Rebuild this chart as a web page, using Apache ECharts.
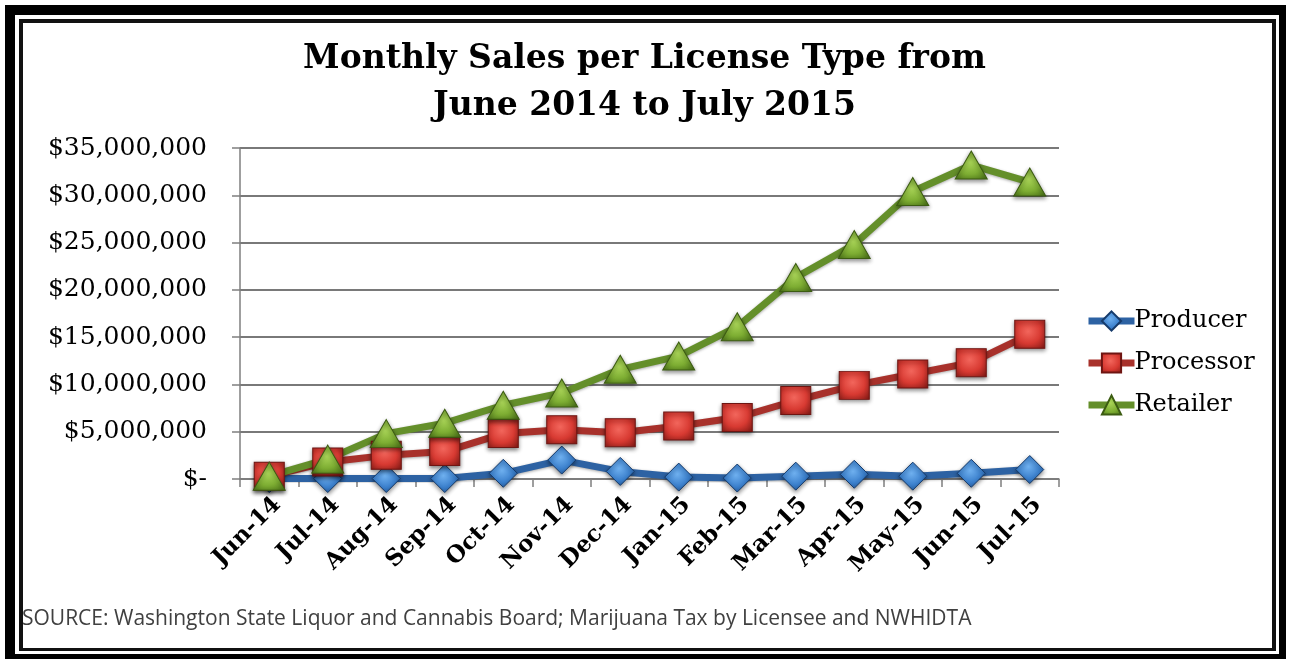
<!DOCTYPE html>
<html>
<head>
<meta charset="utf-8">
<title>Monthly Sales per License Type</title>
<script src="https://cdn.jsdelivr.net/npm/echarts@6/dist/echarts.min.js"></script>
<style>
  html, body { margin: 0; padding: 0; background: #fff; }
  #chart { width: 1289px; height: 659px; }
</style>
</head>
<body>
<div id="chart"></div>
<script>
// Months covered by the report
const months = ['Jun-14', 'Jul-14', 'Aug-14', 'Sep-14', 'Oct-14', 'Nov-14', 'Dec-14',
                'Jan-15', 'Feb-15', 'Mar-15', 'Apr-15', 'May-15', 'Jun-15', 'Jul-15'];

// Monthly sales in dollars, by license type
const producer  = [50000, 50000, 50000, 50000, 600000, 2000000, 800000,
                   200000, 100000, 300000, 500000, 300000, 600000, 1000000];
const processor = [300000, 1800000, 2500000, 2900000, 4800000, 5200000, 4900000,
                   5600000, 6500000, 8300000, 9900000, 11100000, 12300000, 15300000];
const retailer  = [300000, 2100000, 4800000, 5900000, 7800000, 9100000, 11600000,
                   13000000, 16100000, 21300000, 24800000, 30400000, 33200000, 31400000];

const seriesNames = ['Producer', 'Processor', 'Retailer'];

const SERIF = '"DejaVu Serif", "Liberation Serif", serif';

function glossy(light, mid, dark) {
  return {
    type: 'radial', x: 0.45, y: 0.4, r: 0.75,
    colorStops: [
      { offset: 0, color: light },
      { offset: 0.55, color: mid },
      { offset: 1, color: dark }
    ]
  };
}

function lineSeries(name, data, symbol, size, lineColor, fill, border) {
  return {
    name: name,
    type: 'line',
    data: data,
    symbol: symbol,
    symbolSize: size,
    showAllSymbol: true,
    lineStyle: {
      width: 7, color: lineColor,
      shadowColor: 'rgba(0,0,0,0.35)', shadowBlur: 3, shadowOffsetY: 1
    },
    itemStyle: {
      color: fill, borderColor: border, borderWidth: 1,
      shadowColor: 'rgba(0,0,0,0.45)', shadowBlur: 4, shadowOffsetY: 2
    },
    emphasis: { disabled: true },
    z: 3
  };
}

const chart = echarts.init(document.getElementById('chart'), null, { renderer: 'canvas' });

chart.setOption({
  animation: false,
  backgroundColor: '#fff',
  title: {
    text: 'Monthly Sales per License Type from\nJune 2014 to July 2015',
    left: 'center',
    top: 31,
    textStyle: {
      fontFamily: SERIF, fontWeight: 'bold', fontSize: 33,
      lineHeight: 47, color: '#000'
    }
  },
  legend: {
    orient: 'vertical',
    left: 1080,
    top: 304,
    itemWidth: 46,
    itemHeight: 24,
    itemGap: 18,
    data: seriesNames,
    lineStyle: { width: 7 },
    textStyle: { fontFamily: SERIF, fontSize: 24, color: '#000', padding: [0, 0, 0, -5] }
  },
  grid: { left: 240, top: 148, right: 230, bottom: 180, containLabel: false },
  xAxis: {
    type: 'category',
    data: months,
    boundaryGap: true,
    axisLine: { lineStyle: { color: '#7f7f7f', width: 1.5 } },
    axisTick: { show: true, inside: false, length: 8, alignWithLabel: false,
                lineStyle: { color: '#7f7f7f', width: 1.5 } },
    axisLabel: {
      interval: 0, rotate: 45, margin: 14, verticalAlign: 'top',
      fontFamily: SERIF, fontWeight: 'bold', fontSize: 23, color: '#000'
    }
  },
  yAxis: {
    type: 'value',
    min: 0, max: 35000000, interval: 5000000,
    axisLine: { show: true, lineStyle: { color: '#7f7f7f', width: 1.5 } },
    axisTick: { show: true, length: 8, lineStyle: { color: '#7f7f7f', width: 1.5 } },
    splitLine: { lineStyle: { color: '#4d4d4d', width: 1.5 } },
    axisLabel: {
      margin: 33,
      fontFamily: SERIF, fontSize: 25, color: '#000',
      formatter: function (v) {
        return v === 0 ? '$-' : '$' + v.toLocaleString('en-US');
      }
    }
  },
  series: [
    lineSeries('Producer', producer, 'diamond', [28, 28], '#2d62a3',
               glossy('#6fb0ef', '#3a7fcc', '#1c4a86'), '#163b6b'),
    lineSeries('Processor', processor, 'rect', [30, 28], '#a8312b',
               glossy('#f2665c', '#d83a32', '#8e1d18'), '#6e1512'),
    lineSeries('Retailer', retailer, 'triangle', [32, 28], '#648f2a',
               glossy('#a9d457', '#7eae33', '#4c7418'), '#3c5c12')
  ],
  graphic: [
    // outer heavy frame
    { type: 'rect', shape: { x: 5, y: 5, width: 1281, height: 10 }, style: { fill: '#000' }, silent: true },
    { type: 'rect', shape: { x: 5, y: 5, width: 10, height: 654 }, style: { fill: '#000' }, silent: true },
    { type: 'rect', shape: { x: 1279, y: 5, width: 7, height: 654 }, style: { fill: '#000' }, silent: true },
    { type: 'rect', shape: { x: 5, y: 654, width: 1281, height: 5 }, style: { fill: '#000' }, silent: true },
    // inner thin frame
    { type: 'rect', shape: { x: 19, y: 19, width: 1257, height: 4 }, style: { fill: '#111' }, silent: true },
    { type: 'rect', shape: { x: 19, y: 19, width: 4, height: 632 }, style: { fill: '#111' }, silent: true },
    { type: 'rect', shape: { x: 1272, y: 19, width: 4, height: 632 }, style: { fill: '#111' }, silent: true },
    { type: 'rect', shape: { x: 19, y: 648, width: 1257, height: 3 }, style: { fill: '#111' }, silent: true },
    // source note
    {
      type: 'text', left: 22, top: 609, silent: true,
      style: {
        text: 'SOURCE: Washington State Liquor and Cannabis Board; Marijuana Tax by Licensee and NWHIDTA',
        fontFamily: '"Open Sans", "Liberation Sans", sans-serif',
        fontSize: 21, fill: '#404040'
      }
    }
  ]
});
</script>
</body>
</html>
